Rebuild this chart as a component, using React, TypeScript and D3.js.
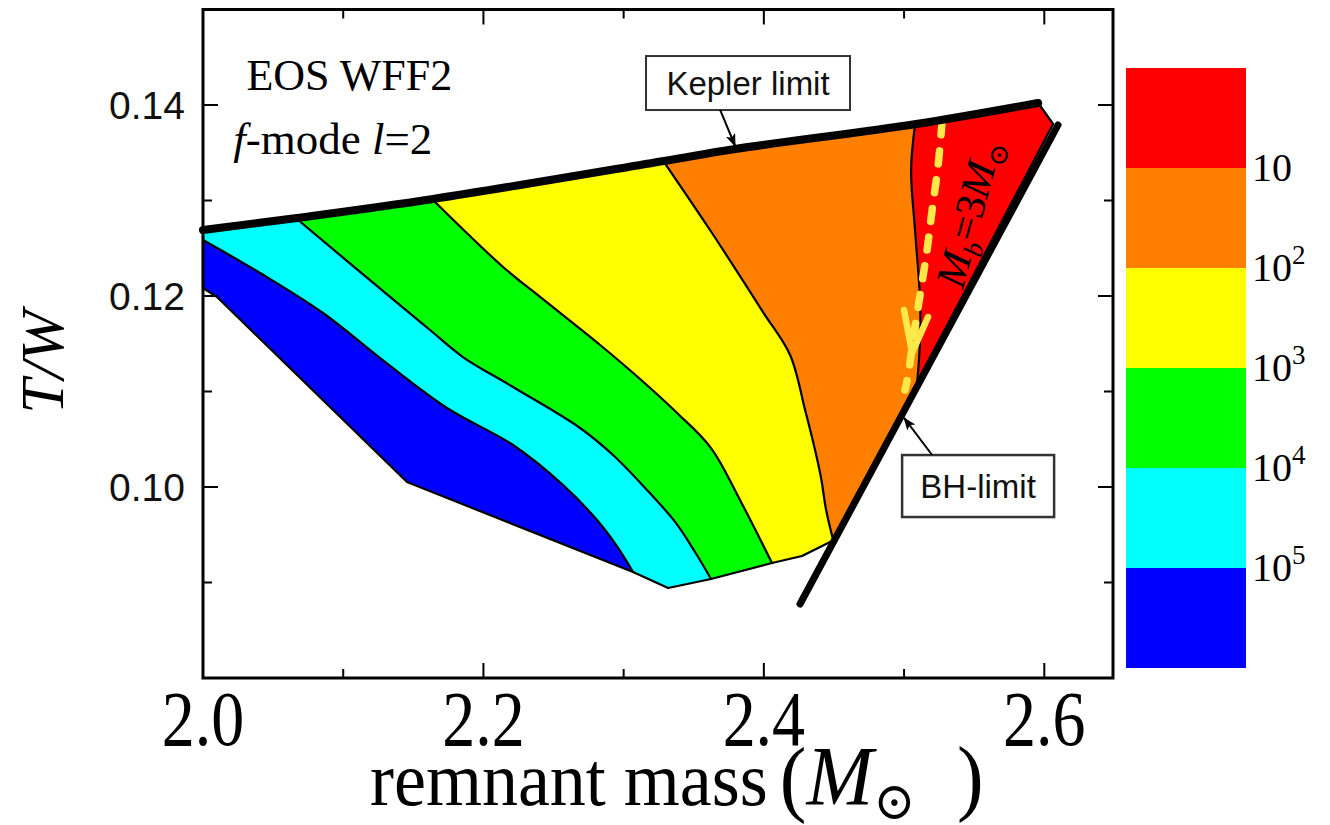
import React from "react";
import * as d3 from "d3";

type P = [number, number];

// ---- axis ticks ----
const xMajorTicks = [2.0, 2.2, 2.4, 2.6];
const xMinorTicks = [2.1, 2.3, 2.5];
const xTickLabels = ["2.0", "2.2", "2.4", "2.6"];
const yMajorTicks = [0.1, 0.12, 0.14];
const yMinorTicks = [0.09, 0.11, 0.13];
const yTickLabels = ["0.10", "0.12", "0.14"];

// ---- limits (remnant mass, T/W) ----
const keplerLimit: P[] = [
  [2.0, 0.12691], [2.067, 0.12817], [2.1641, 0.13016], [2.3288, 0.13414],
  [2.3795, 0.13539], [2.5086, 0.13801], [2.5956, 0.14021],
];
const bhLimit: P[] = [[2.6098, 0.13791], [2.4258, 0.08775]];
const regionCorner: P[] = [[2.6063, 0.13801]];
const regionBottom: P[] = [
  [2.4501, 0.09445], [2.4272, 0.09277], [2.4058, 0.09204], [2.3623, 0.09037],
  [2.3317, 0.08942], [2.3067, 0.0911], [2.1455, 0.10052], [2.01, 0.1199], [2.0, 0.12084],
];

// ---- contour boundaries (damping time levels) ----
const contour1e5: P[] = [
  [2.0, 0.12586], [2.0407, 0.12241], [2.0856, 0.11822], [2.1298, 0.11309], [2.174, 0.10827],
  [2.2211, 0.1044], [2.2568, 0.10021], [2.281, 0.09654], [2.2946, 0.09393], [2.3067, 0.0911],
];
const contour1e4: P[] = [
  [2.067, 0.12806], [2.1334, 0.1199], [2.1619, 0.11644], [2.1854, 0.11361], [2.2211, 0.11047],
  [2.2689, 0.10618], [2.2924, 0.10335], [2.3153, 0.0999], [2.3367, 0.09634], [2.3509, 0.09319],
  [2.3623, 0.09037],
];
const contour1e3: P[] = [
  [2.1633, 0.13016], [2.214, 0.12304], [2.2404, 0.1199], [2.2832, 0.11487], [2.3117, 0.11131],
  [2.3381, 0.10775], [2.3623, 0.10408], [2.3837, 0.09843], [2.4058, 0.09204],
];
const contour1e2: P[] = [
  [2.3288, 0.13403], [2.3616, 0.12691], [2.3994, 0.11832], [2.4187, 0.11382],
  [2.4294, 0.10806], [2.4365, 0.10387], [2.4408, 0.10094], [2.4444, 0.09759], [2.4494, 0.09445],
];
const contour1e1: P[] = [
  [2.5078, 0.13791], [2.505, 0.13319], [2.5078, 0.12691], [2.5114, 0.11958], [2.5114, 0.11539],
  [2.5093, 0.11089],
];
const contours: P[][] = [contour1e5, contour1e4, contour1e3, contour1e2, contour1e1];
const bandColors = ["#0000ff", "#00ffff", "#00ff00", "#ffff00", "#ff8000", "#ff0000"];

// ---- M_b = 3 Msun curve ----
const mb3Curve: P[] = [
  [2.5271, 0.13822], [2.5243, 0.13372], [2.52, 0.12901], [2.5164, 0.12482],
  [2.5114, 0.12011], [2.5064, 0.11539], [2.5029, 0.11173], [2.5007, 0.11016],
];
const mb3Arrow: P[] = [[2.5, 0.11853], [2.5057, 0.11404], [2.5171, 0.1178]];

// ---- colorbar ----
const colorbarColors = ["#ff0000", "#ff8000", "#ffff00", "#00ff00", "#00ffff", "#0000ff"];
const colorbarExponents = ["", "2", "3", "4", "5"];

// ---- annotations (data coords) ----
const keplerBox: P = [2.3887, 0.1423];
const keplerArrow: P[] = [[2.3688, 0.13948], [2.3795, 0.13571]];
const bhBox: P = [2.5528, 0.1001];
const bhArrow: P[] = [[2.52, 0.10335], [2.5, 0.10723]];
const mbLabel: P = [2.5456, 0.12869];
const eosLabel: P = [2.031, 0.1416];
const modeLabel: P = [2.0215, 0.1349];

const SERIF = "'Liberation Serif', 'DejaVu Serif', serif";
const SANS = "'Liberation Sans', Arial, sans-serif";

export default function App() {
  const W = 1330, H = 825;
  const x = d3.scaleLinear().domain([2.0, 2.649]).range([203, 1113]);
  const y = d3.scaleLinear().domain([0.08, 0.15]).range([678, 9.5]);
  const lin = d3.line<P>().x((d) => x(d[0])).y((d) => y(d[1]));
  const smooth = d3.line<P>().x((d) => x(d[0])).y((d) => y(d[1])).curve(d3.curveCatmullRom.alpha(0.5));

  const regionPts = [...keplerLimit, ...regionCorner, ...regionBottom];
  const regionPath = lin(regionPts) + "Z";

  const bandPath = (c: P[]) => {
    const f = c[0], l = c[c.length - 1];
    const ext: P[] = [[l[0], 0.0], [3.0, 0.0], [3.0, 0.2], [f[0], 0.2]];
    return smooth(c) + ext.map((p) => `L${x(p[0])},${y(p[1])}`).join("") + "Z";
  };

  const x0 = x.range()[0], x1 = x.range()[1];
  const yb = y.range()[0], yt = y.range()[1];
  const majL = 15, minL = 9;

  const cbScale = d3.scaleBand<number>().domain(d3.range(6)).range([68, 668]);
  const cbX = 1126, cbW = 120;

  return (
    <svg width={W} height={H} style={{ position: "absolute", left: 0, top: 0, background: "#fff" }}>
      <defs>
        <clipPath id="region">
          <path d={regionPath} />
        </clipPath>
        <marker id="ah" markerUnits="userSpaceOnUse" markerWidth="14" markerHeight="12"
          refX="12" refY="5" orient="auto">
          <path d="M0,0 L13,5 L0,10 L3,5 Z" fill="#000" />
        </marker>
      </defs>

      {/* bands */}
      <g clipPath="url(#region)">
        <path d={regionPath} fill={bandColors[0]} />
        {contours.map((c, i) => (
          <path key={i} d={bandPath(c)} fill={bandColors[i + 1]} />
        ))}
      </g>
      {contours.map((c, i) => (
        <path key={i} d={smooth(c) || ""} fill="none" stroke="#000" strokeWidth={2.2} />
      ))}
      <path d={regionPath} fill="none" stroke="#000" strokeWidth={2.2} strokeLinejoin="round" />

      {/* M_b = 3 Msun */}
      <path d={smooth(mb3Curve) || ""} fill="none" stroke="#ffe94a" strokeWidth={7.5}
        strokeDasharray="13 16" strokeLinecap="round" />
      <path d={lin(mb3Arrow) || ""} fill="none" stroke="#ffe94a" strokeWidth={6.5}
        strokeLinecap="round" strokeLinejoin="round" />

      {/* limits */}
      <path d={smooth(keplerLimit) || ""} fill="none" stroke="#000" strokeWidth={8} strokeLinecap="round" />
      <path d={lin(bhLimit) || ""} fill="none" stroke="#000" strokeWidth={7} strokeLinecap="round" />

      {/* annotations */}
      <g>
        <rect x={x(keplerBox[0]) - 102} y={y(keplerBox[1]) - 27} width={204} height={54}
          fill="#fff" stroke="#333" strokeWidth={2} />
        <text x={x(keplerBox[0])} y={y(keplerBox[1])} dy="0.36em" textAnchor="middle"
          fontFamily={SANS} fontSize={33} fill="#111">Kepler limit</text>
        <path d={lin(keplerArrow) || ""} stroke="#000" strokeWidth={2} markerEnd="url(#ah)" />
        <rect x={x(bhBox[0]) - 76} y={y(bhBox[1]) - 31} width={152} height={62}
          fill="#fff" stroke="#333" strokeWidth={2.5} />
        <text x={x(bhBox[0])} y={y(bhBox[1])} dy="0.36em" textAnchor="middle"
          fontFamily={SANS} fontSize={33} fill="#111">BH-limit</text>
        <path d={lin(bhArrow) || ""} stroke="#000" strokeWidth={2} markerEnd="url(#ah)" />
        <text transform={`translate(${x(mbLabel[0])},${y(mbLabel[1])}) rotate(-75)`}
          textAnchor="middle" fontFamily={SERIF} fontSize={42} dy="0.35em" fill="#000">
          <tspan fontStyle="italic">M</tspan>
          <tspan fontStyle="italic" fontSize={27} dy={9}>b</tspan>
          <tspan dy={-9}>=3</tspan>
          <tspan fontStyle="italic">M</tspan>
          <tspan fontSize={27} dy={9}>⊙</tspan>
        </text>
        <text x={x(eosLabel[0])} y={y(eosLabel[1])} fontFamily={SERIF} fontSize={44} fill="#000">
          EOS WFF2
        </text>
        <text x={x(modeLabel[0])} y={y(modeLabel[1])} fontFamily={SERIF} fontSize={45} fill="#000">
          <tspan fontStyle="italic">f</tspan>-mode <tspan fontStyle="italic">l</tspan>=2
        </text>
      </g>

      {/* frame and ticks */}
      <rect x={x0} y={yt} width={x1 - x0} height={yb - yt} fill="none" stroke="#000" strokeWidth={3} />
      {xMajorTicks.map((t) => (
        <g key={"xM" + t}>
          <line x1={x(t)} x2={x(t)} y1={yb} y2={yb - majL} stroke="#000" strokeWidth={2} />
          <line x1={x(t)} x2={x(t)} y1={yt} y2={yt + majL} stroke="#000" strokeWidth={2} />
        </g>
      ))}
      {xMinorTicks.map((t) => (
        <g key={"xm" + t}>
          <line x1={x(t)} x2={x(t)} y1={yb} y2={yb - minL} stroke="#000" strokeWidth={2} />
          <line x1={x(t)} x2={x(t)} y1={yt} y2={yt + minL} stroke="#000" strokeWidth={2} />
        </g>
      ))}
      {yMajorTicks.map((t) => (
        <g key={"yM" + t}>
          <line x1={x0} x2={x0 + majL} y1={y(t)} y2={y(t)} stroke="#000" strokeWidth={2} />
          <line x1={x1} x2={x1 - majL} y1={y(t)} y2={y(t)} stroke="#000" strokeWidth={2} />
        </g>
      ))}
      {yMinorTicks.map((t) => (
        <g key={"ym" + t}>
          <line x1={x0} x2={x0 + minL} y1={y(t)} y2={y(t)} stroke="#000" strokeWidth={2} />
          <line x1={x1} x2={x1 - minL} y1={y(t)} y2={y(t)} stroke="#000" strokeWidth={2} />
        </g>
      ))}
      {yMajorTicks.map((t, i) => (
        <text key={"yl" + t} x={185} y={y(t)} dy="0.36em" textAnchor="end"
          fontFamily={SANS} fontSize={39} fill="#111">{yTickLabels[i]}</text>
      ))}
      {xMajorTicks.map((t, i) => (
        <text key={"xl" + t} transform={`translate(${x(t)},745) scale(1,1.2)`} textAnchor="middle"
          fontFamily={SERIF} fontSize={66} fill="#000">{xTickLabels[i]}</text>
      ))}

      {/* axis titles */}
      <text transform="translate(370,805) scale(1,1.05)" fontFamily={SERIF} fontSize={72} fill="#000">
        remnant mass
        <tspan fontSize={80} dx={12} dy={1}>(</tspan>
        <tspan fontStyle="italic" fontSize={80} dy={-1}>M</tspan>
        <tspan fontSize={50} dy={13}>⊙</tspan>
        <tspan fontSize={80} dx={42} dy={-13}>)</tspan>
      </text>
      <text transform="translate(63,362) rotate(-90)" textAnchor="middle" fontFamily={SERIF}
        fontStyle="italic" fontSize={62} fill="#000">T/W</text>

      {/* colorbar */}
      {colorbarColors.map((c, i) => (
        <rect key={"cb" + i} x={cbX} y={cbScale(i)} width={cbW} height={cbScale.bandwidth()} fill={c} />
      ))}
      {colorbarExponents.map((e, i) => (
        <text key={"cbl" + i} x={cbX + cbW + 6} y={(cbScale(i + 1) as number)} dy={13}
          fontFamily={SERIF} fontSize={40} fill="#000">
          10{e ? <tspan fontSize={27} dy={-17}>{e}</tspan> : null}
        </text>
      ))}
    </svg>
  );
}
